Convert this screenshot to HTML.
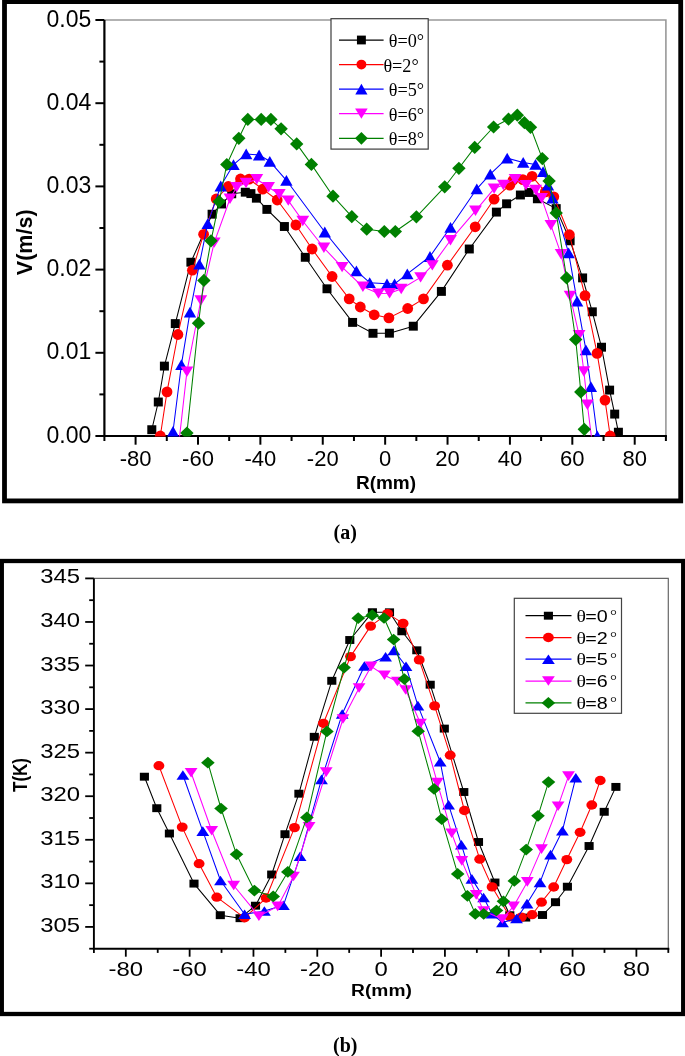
<!DOCTYPE html>
<html><head><meta charset="utf-8"><style>
html,body{margin:0;padding:0;background:#fff;}
svg{display:block;}
text{font-family:"Liberation Sans",sans-serif;fill:#000;}
svg{will-change:transform;}
.ta{font-size:23px;}
.tax{font-size:22px;}
.tt{font-size:21.5px;font-weight:bold;}
.tt2{font-size:19px;font-weight:bold;}
.cap{font-family:"Liberation Serif",serif;font-size:20px;font-weight:bold;}
.lga{font-family:"Liberation Serif",serif;font-size:18.2px;}
.tb{font-size:20.6px;}
.tbt{font-size:17px;font-weight:bold;}
.lgbt{font-family:"Liberation Serif",serif;font-size:17px;}
.lgb{font-size:17px;}
.lgbd{font-family:"Liberation Serif",serif;font-size:15px;}
</style></head>
<body><svg width="685" height="1056" viewBox="0 0 685 1056">
<defs><clipPath id="ca"><rect x="104.4" y="20.0" width="561.5" height="416.4"/></clipPath><clipPath id="cb"><rect x="93.9" y="578.4" width="574.4" height="370.30000000000007"/></clipPath></defs>
<rect width="685" height="1056" fill="#fff"/>
<rect x="4.5" y="1.6" width="676.2" height="499.3" fill="none" stroke="#000" stroke-width="4.8"/>
<rect x="1.8" y="561" width="681.4" height="453" fill="none" stroke="#000" stroke-width="4.3"/>
<path d="M104.4,20.0H665.9V436.0" fill="none" stroke="#999" stroke-width="1.6"/>
<path d="M104.4,20.0V436.0M103.4,436.0H666.9" stroke="#000" stroke-width="2.2" fill="none"/>
<path d="M95.4,436.00H104.4" stroke="#000" stroke-width="2"/>
<path d="M99.4,394.40H104.4" stroke="#000" stroke-width="2"/>
<path d="M95.4,352.80H104.4" stroke="#000" stroke-width="2"/>
<path d="M99.4,311.20H104.4" stroke="#000" stroke-width="2"/>
<path d="M95.4,269.60H104.4" stroke="#000" stroke-width="2"/>
<path d="M99.4,228.00H104.4" stroke="#000" stroke-width="2"/>
<path d="M95.4,186.40H104.4" stroke="#000" stroke-width="2"/>
<path d="M99.4,144.80H104.4" stroke="#000" stroke-width="2"/>
<path d="M95.4,103.20H104.4" stroke="#000" stroke-width="2"/>
<path d="M99.4,61.60H104.4" stroke="#000" stroke-width="2"/>
<path d="M95.4,20.00H104.4" stroke="#000" stroke-width="2"/>
<path d="M104.40,436.0V441.0" stroke="#000" stroke-width="2"/>
<path d="M135.59,436.0V444.7" stroke="#000" stroke-width="2"/>
<path d="M166.79,436.0V441.0" stroke="#000" stroke-width="2"/>
<path d="M197.98,436.0V444.7" stroke="#000" stroke-width="2"/>
<path d="M229.18,436.0V441.0" stroke="#000" stroke-width="2"/>
<path d="M260.37,436.0V444.7" stroke="#000" stroke-width="2"/>
<path d="M291.57,436.0V441.0" stroke="#000" stroke-width="2"/>
<path d="M322.76,436.0V444.7" stroke="#000" stroke-width="2"/>
<path d="M353.96,436.0V441.0" stroke="#000" stroke-width="2"/>
<path d="M385.15,436.0V444.7" stroke="#000" stroke-width="2"/>
<path d="M416.34,436.0V441.0" stroke="#000" stroke-width="2"/>
<path d="M447.54,436.0V444.7" stroke="#000" stroke-width="2"/>
<path d="M478.73,436.0V441.0" stroke="#000" stroke-width="2"/>
<path d="M509.93,436.0V444.7" stroke="#000" stroke-width="2"/>
<path d="M541.12,436.0V441.0" stroke="#000" stroke-width="2"/>
<path d="M572.32,436.0V444.7" stroke="#000" stroke-width="2"/>
<path d="M603.51,436.0V441.0" stroke="#000" stroke-width="2"/>
<path d="M634.71,436.0V444.7" stroke="#000" stroke-width="2"/>
<path d="M665.90,436.0V441.0" stroke="#000" stroke-width="2"/>
<g clip-path="url(#ca)"><polyline points="151.8,429.7 158.3,402.0 164.4,366.1 175.3,323.6 190.9,262.2 212.1,214.2 221.5,204.0 231.7,193.8 245.3,192.2 250.9,193.6 256.4,198.2 266.9,209.4 284.4,226.5 305.3,257.3 327.0,288.8 352.6,322.4 373.0,333.3 389.4,333.2 413.3,326.2 441.4,291.4 469.3,249.0 496.4,212.1 506.6,203.8 520.4,195.0 529.1,192.5 537.4,198.8 556.2,208.6 570.1,240.8 582.6,277.9 592.3,311.8 601.5,347.2 609.6,390.1 614.7,414.1 618.4,432.2" fill="none" stroke="#000000" stroke-width="1.05" stroke-linejoin="round"/>
<rect x="147.30" y="425.25" width="9.00" height="8.90" fill="#000000"/>
<rect x="153.80" y="397.55" width="9.00" height="8.90" fill="#000000"/>
<rect x="159.90" y="361.65" width="9.00" height="8.90" fill="#000000"/>
<rect x="170.80" y="319.15" width="9.00" height="8.90" fill="#000000"/>
<rect x="186.40" y="257.75" width="9.00" height="8.90" fill="#000000"/>
<rect x="207.60" y="209.75" width="9.00" height="8.90" fill="#000000"/>
<rect x="217.00" y="199.55" width="9.00" height="8.90" fill="#000000"/>
<rect x="227.20" y="189.35" width="9.00" height="8.90" fill="#000000"/>
<rect x="240.80" y="187.75" width="9.00" height="8.90" fill="#000000"/>
<rect x="246.40" y="189.15" width="9.00" height="8.90" fill="#000000"/>
<rect x="251.90" y="193.75" width="9.00" height="8.90" fill="#000000"/>
<rect x="262.40" y="204.95" width="9.00" height="8.90" fill="#000000"/>
<rect x="279.90" y="222.05" width="9.00" height="8.90" fill="#000000"/>
<rect x="300.80" y="252.85" width="9.00" height="8.90" fill="#000000"/>
<rect x="322.50" y="284.35" width="9.00" height="8.90" fill="#000000"/>
<rect x="348.10" y="317.95" width="9.00" height="8.90" fill="#000000"/>
<rect x="368.50" y="328.85" width="9.00" height="8.90" fill="#000000"/>
<rect x="384.90" y="328.75" width="9.00" height="8.90" fill="#000000"/>
<rect x="408.80" y="321.75" width="9.00" height="8.90" fill="#000000"/>
<rect x="436.90" y="286.95" width="9.00" height="8.90" fill="#000000"/>
<rect x="464.80" y="244.55" width="9.00" height="8.90" fill="#000000"/>
<rect x="491.90" y="207.65" width="9.00" height="8.90" fill="#000000"/>
<rect x="502.10" y="199.35" width="9.00" height="8.90" fill="#000000"/>
<rect x="515.90" y="190.55" width="9.00" height="8.90" fill="#000000"/>
<rect x="524.60" y="188.05" width="9.00" height="8.90" fill="#000000"/>
<rect x="532.90" y="194.35" width="9.00" height="8.90" fill="#000000"/>
<rect x="551.70" y="204.15" width="9.00" height="8.90" fill="#000000"/>
<rect x="565.60" y="236.35" width="9.00" height="8.90" fill="#000000"/>
<rect x="578.10" y="273.45" width="9.00" height="8.90" fill="#000000"/>
<rect x="587.80" y="307.35" width="9.00" height="8.90" fill="#000000"/>
<rect x="597.00" y="342.75" width="9.00" height="8.90" fill="#000000"/>
<rect x="605.10" y="385.65" width="9.00" height="8.90" fill="#000000"/>
<rect x="610.20" y="409.65" width="9.00" height="8.90" fill="#000000"/>
<rect x="613.90" y="427.75" width="9.00" height="8.90" fill="#000000"/>
<polyline points="160.3,436.0 167.0,391.9 177.9,334.5 192.4,270.2 203.6,234.3 216.2,199.0 228.3,186.5 240.5,179.0 249.1,179.1 262.7,189.2 277.2,200.0 295.9,225.0 312.1,249.0 332.1,276.5 349.2,298.9 360.3,307.0 374.2,314.8 388.9,317.9 407.7,308.5 423.5,298.9 447.4,265.2 475.2,226.8 494.1,199.2 509.8,185.2 513.0,180.3 522.9,179.6 532.1,176.3 545.3,191.9 553.8,196.8 569.4,234.7 585.0,295.6 597.1,353.4 605.0,400.1 610.2,436.0" fill="none" stroke="#ff0000" stroke-width="1.05" stroke-linejoin="round"/>
<ellipse cx="160.30" cy="436.00" rx="5.40" ry="5.40" fill="#ff0000"/>
<ellipse cx="167.00" cy="391.90" rx="5.40" ry="5.40" fill="#ff0000"/>
<ellipse cx="177.90" cy="334.50" rx="5.40" ry="5.40" fill="#ff0000"/>
<ellipse cx="192.40" cy="270.20" rx="5.40" ry="5.40" fill="#ff0000"/>
<ellipse cx="203.60" cy="234.30" rx="5.40" ry="5.40" fill="#ff0000"/>
<ellipse cx="216.20" cy="199.00" rx="5.40" ry="5.40" fill="#ff0000"/>
<ellipse cx="228.30" cy="186.50" rx="5.40" ry="5.40" fill="#ff0000"/>
<ellipse cx="240.50" cy="179.00" rx="5.40" ry="5.40" fill="#ff0000"/>
<ellipse cx="249.10" cy="179.10" rx="5.40" ry="5.40" fill="#ff0000"/>
<ellipse cx="262.70" cy="189.20" rx="5.40" ry="5.40" fill="#ff0000"/>
<ellipse cx="277.20" cy="200.00" rx="5.40" ry="5.40" fill="#ff0000"/>
<ellipse cx="295.90" cy="225.00" rx="5.40" ry="5.40" fill="#ff0000"/>
<ellipse cx="312.10" cy="249.00" rx="5.40" ry="5.40" fill="#ff0000"/>
<ellipse cx="332.10" cy="276.50" rx="5.40" ry="5.40" fill="#ff0000"/>
<ellipse cx="349.20" cy="298.90" rx="5.40" ry="5.40" fill="#ff0000"/>
<ellipse cx="360.30" cy="307.00" rx="5.40" ry="5.40" fill="#ff0000"/>
<ellipse cx="374.20" cy="314.80" rx="5.40" ry="5.40" fill="#ff0000"/>
<ellipse cx="388.90" cy="317.90" rx="5.40" ry="5.40" fill="#ff0000"/>
<ellipse cx="407.70" cy="308.50" rx="5.40" ry="5.40" fill="#ff0000"/>
<ellipse cx="423.50" cy="298.90" rx="5.40" ry="5.40" fill="#ff0000"/>
<ellipse cx="447.40" cy="265.20" rx="5.40" ry="5.40" fill="#ff0000"/>
<ellipse cx="475.20" cy="226.80" rx="5.40" ry="5.40" fill="#ff0000"/>
<ellipse cx="494.10" cy="199.20" rx="5.40" ry="5.40" fill="#ff0000"/>
<ellipse cx="509.80" cy="185.20" rx="5.40" ry="5.40" fill="#ff0000"/>
<ellipse cx="513.00" cy="180.30" rx="5.40" ry="5.40" fill="#ff0000"/>
<ellipse cx="522.90" cy="179.60" rx="5.40" ry="5.40" fill="#ff0000"/>
<ellipse cx="532.10" cy="176.30" rx="5.40" ry="5.40" fill="#ff0000"/>
<ellipse cx="545.30" cy="191.90" rx="5.40" ry="5.40" fill="#ff0000"/>
<ellipse cx="553.80" cy="196.80" rx="5.40" ry="5.40" fill="#ff0000"/>
<ellipse cx="569.40" cy="234.70" rx="5.40" ry="5.40" fill="#ff0000"/>
<ellipse cx="585.00" cy="295.60" rx="5.40" ry="5.40" fill="#ff0000"/>
<ellipse cx="597.10" cy="353.40" rx="5.40" ry="5.40" fill="#ff0000"/>
<ellipse cx="605.00" cy="400.10" rx="5.40" ry="5.40" fill="#ff0000"/>
<ellipse cx="610.20" cy="436.00" rx="5.40" ry="5.40" fill="#ff0000"/>
<polyline points="173.0,431.5 181.4,364.7 190.0,312.1 199.4,264.1 207.7,223.7 220.7,186.0 233.5,164.6 246.2,153.9 259.1,155.0 269.8,161.3 286.4,180.3 324.8,232.0 356.4,270.9 369.7,282.7 387.0,283.8 394.6,283.8 407.3,273.9 430.0,256.5 450.5,227.3 476.8,188.8 490.3,174.2 507.2,158.2 523.2,162.4 535.5,164.4 543.1,171.7 548.0,185.0 552.5,198.0 568.6,252.8 577.1,301.2 585.9,349.9 590.9,386.6 597.3,436.0" fill="none" stroke="#0000ff" stroke-width="1.05" stroke-linejoin="round"/>
<path d="M173.00,426.10L179.20,436.90L166.80,436.90Z" fill="#0000ff"/>
<path d="M181.40,359.30L187.60,370.10L175.20,370.10Z" fill="#0000ff"/>
<path d="M190.00,306.70L196.20,317.50L183.80,317.50Z" fill="#0000ff"/>
<path d="M199.40,258.70L205.60,269.50L193.20,269.50Z" fill="#0000ff"/>
<path d="M207.70,218.30L213.90,229.10L201.50,229.10Z" fill="#0000ff"/>
<path d="M220.70,180.60L226.90,191.40L214.50,191.40Z" fill="#0000ff"/>
<path d="M233.50,159.20L239.70,170.00L227.30,170.00Z" fill="#0000ff"/>
<path d="M246.20,148.50L252.40,159.30L240.00,159.30Z" fill="#0000ff"/>
<path d="M259.10,149.60L265.30,160.40L252.90,160.40Z" fill="#0000ff"/>
<path d="M269.80,155.90L276.00,166.70L263.60,166.70Z" fill="#0000ff"/>
<path d="M286.40,174.90L292.60,185.70L280.20,185.70Z" fill="#0000ff"/>
<path d="M324.80,226.60L331.00,237.40L318.60,237.40Z" fill="#0000ff"/>
<path d="M356.40,265.50L362.60,276.30L350.20,276.30Z" fill="#0000ff"/>
<path d="M369.70,277.30L375.90,288.10L363.50,288.10Z" fill="#0000ff"/>
<path d="M387.00,278.40L393.20,289.20L380.80,289.20Z" fill="#0000ff"/>
<path d="M394.60,278.40L400.80,289.20L388.40,289.20Z" fill="#0000ff"/>
<path d="M407.30,268.50L413.50,279.30L401.10,279.30Z" fill="#0000ff"/>
<path d="M430.00,251.10L436.20,261.90L423.80,261.90Z" fill="#0000ff"/>
<path d="M450.50,221.90L456.70,232.70L444.30,232.70Z" fill="#0000ff"/>
<path d="M476.80,183.40L483.00,194.20L470.60,194.20Z" fill="#0000ff"/>
<path d="M490.30,168.80L496.50,179.60L484.10,179.60Z" fill="#0000ff"/>
<path d="M507.20,152.80L513.40,163.60L501.00,163.60Z" fill="#0000ff"/>
<path d="M523.20,157.00L529.40,167.80L517.00,167.80Z" fill="#0000ff"/>
<path d="M535.50,159.00L541.70,169.80L529.30,169.80Z" fill="#0000ff"/>
<path d="M543.10,166.30L549.30,177.10L536.90,177.10Z" fill="#0000ff"/>
<path d="M548.00,179.60L554.20,190.40L541.80,190.40Z" fill="#0000ff"/>
<path d="M552.50,192.60L558.70,203.40L546.30,203.40Z" fill="#0000ff"/>
<path d="M568.60,247.40L574.80,258.20L562.40,258.20Z" fill="#0000ff"/>
<path d="M577.10,295.80L583.30,306.60L570.90,306.60Z" fill="#0000ff"/>
<path d="M585.90,344.50L592.10,355.30L579.70,355.30Z" fill="#0000ff"/>
<path d="M590.90,381.20L597.10,392.00L584.70,392.00Z" fill="#0000ff"/>
<path d="M597.30,430.60L603.50,441.40L591.10,441.40Z" fill="#0000ff"/>
<polyline points="178.3,448.0 186.9,371.7 200.8,300.5 214.2,242.6 230.0,198.7 236.6,187.3 246.0,183.0 256.8,179.3 268.6,187.3 279.3,194.2 288.3,200.6 302.8,221.0 323.9,247.8 342.1,267.1 362.9,286.8 378.5,293.6 389.6,293.2 401.2,289.0 420.6,277.4 432.3,265.4 450.5,240.2 475.5,210.8 494.1,188.6 503.4,185.0 515.1,179.3 526.0,185.1 535.7,190.0 541.6,198.2 550.9,225.2 561.1,254.2 570.1,296.0 579.1,335.2 583.9,371.5 587.4,404.7 592.8,448.0" fill="none" stroke="#ff00ff" stroke-width="1.05" stroke-linejoin="round"/>
<path d="M171.90,442.80L184.70,442.80L178.30,453.20Z" fill="#ff00ff"/>
<path d="M180.50,366.50L193.30,366.50L186.90,376.90Z" fill="#ff00ff"/>
<path d="M194.40,295.30L207.20,295.30L200.80,305.70Z" fill="#ff00ff"/>
<path d="M207.80,237.40L220.60,237.40L214.20,247.80Z" fill="#ff00ff"/>
<path d="M223.60,193.50L236.40,193.50L230.00,203.90Z" fill="#ff00ff"/>
<path d="M230.20,182.10L243.00,182.10L236.60,192.50Z" fill="#ff00ff"/>
<path d="M239.60,177.80L252.40,177.80L246.00,188.20Z" fill="#ff00ff"/>
<path d="M250.40,174.10L263.20,174.10L256.80,184.50Z" fill="#ff00ff"/>
<path d="M262.20,182.10L275.00,182.10L268.60,192.50Z" fill="#ff00ff"/>
<path d="M272.90,189.00L285.70,189.00L279.30,199.40Z" fill="#ff00ff"/>
<path d="M281.90,195.40L294.70,195.40L288.30,205.80Z" fill="#ff00ff"/>
<path d="M296.40,215.80L309.20,215.80L302.80,226.20Z" fill="#ff00ff"/>
<path d="M317.50,242.60L330.30,242.60L323.90,253.00Z" fill="#ff00ff"/>
<path d="M335.70,261.90L348.50,261.90L342.10,272.30Z" fill="#ff00ff"/>
<path d="M356.50,281.60L369.30,281.60L362.90,292.00Z" fill="#ff00ff"/>
<path d="M372.10,288.40L384.90,288.40L378.50,298.80Z" fill="#ff00ff"/>
<path d="M383.20,288.00L396.00,288.00L389.60,298.40Z" fill="#ff00ff"/>
<path d="M394.80,283.80L407.60,283.80L401.20,294.20Z" fill="#ff00ff"/>
<path d="M414.20,272.20L427.00,272.20L420.60,282.60Z" fill="#ff00ff"/>
<path d="M425.90,260.20L438.70,260.20L432.30,270.60Z" fill="#ff00ff"/>
<path d="M444.10,235.00L456.90,235.00L450.50,245.40Z" fill="#ff00ff"/>
<path d="M469.10,205.60L481.90,205.60L475.50,216.00Z" fill="#ff00ff"/>
<path d="M487.70,183.40L500.50,183.40L494.10,193.80Z" fill="#ff00ff"/>
<path d="M497.00,179.80L509.80,179.80L503.40,190.20Z" fill="#ff00ff"/>
<path d="M508.70,174.10L521.50,174.10L515.10,184.50Z" fill="#ff00ff"/>
<path d="M519.60,179.90L532.40,179.90L526.00,190.30Z" fill="#ff00ff"/>
<path d="M529.30,184.80L542.10,184.80L535.70,195.20Z" fill="#ff00ff"/>
<path d="M535.20,193.00L548.00,193.00L541.60,203.40Z" fill="#ff00ff"/>
<path d="M544.50,220.00L557.30,220.00L550.90,230.40Z" fill="#ff00ff"/>
<path d="M554.70,249.00L567.50,249.00L561.10,259.40Z" fill="#ff00ff"/>
<path d="M563.70,290.80L576.50,290.80L570.10,301.20Z" fill="#ff00ff"/>
<path d="M572.70,330.00L585.50,330.00L579.10,340.40Z" fill="#ff00ff"/>
<path d="M577.50,366.30L590.30,366.30L583.90,376.70Z" fill="#ff00ff"/>
<path d="M581.00,399.50L593.80,399.50L587.40,409.90Z" fill="#ff00ff"/>
<path d="M586.40,442.80L599.20,442.80L592.80,453.20Z" fill="#ff00ff"/>
<polyline points="186.9,433.1 198.5,323.2 203.9,280.4 211.0,240.8 219.2,201.6 226.8,164.5 238.8,138.3 247.8,119.4 261.2,119.4 270.9,119.4 281.1,128.8 296.7,143.9 311.4,164.4 333.0,196.2 351.8,216.7 366.7,229.2 384.3,231.5 395.3,231.5 416.4,216.8 444.7,186.8 458.9,168.3 474.7,147.4 493.6,127.0 508.5,119.2 517.3,115.2 524.4,122.7 530.5,127.3 542.3,158.6 549.1,181.0 556.2,213.0 566.6,277.9 575.7,339.5 580.8,391.9 584.3,429.3" fill="none" stroke="#008000" stroke-width="1.05" stroke-linejoin="round"/>
<path d="M186.90,426.50L193.60,433.10L186.90,439.70L180.20,433.10Z" fill="#008000"/>
<path d="M198.50,316.60L205.20,323.20L198.50,329.80L191.80,323.20Z" fill="#008000"/>
<path d="M203.90,273.80L210.60,280.40L203.90,287.00L197.20,280.40Z" fill="#008000"/>
<path d="M211.00,234.20L217.70,240.80L211.00,247.40L204.30,240.80Z" fill="#008000"/>
<path d="M219.20,195.00L225.90,201.60L219.20,208.20L212.50,201.60Z" fill="#008000"/>
<path d="M226.80,157.90L233.50,164.50L226.80,171.10L220.10,164.50Z" fill="#008000"/>
<path d="M238.80,131.70L245.50,138.30L238.80,144.90L232.10,138.30Z" fill="#008000"/>
<path d="M247.80,112.80L254.50,119.40L247.80,126.00L241.10,119.40Z" fill="#008000"/>
<path d="M261.20,112.80L267.90,119.40L261.20,126.00L254.50,119.40Z" fill="#008000"/>
<path d="M270.90,112.80L277.60,119.40L270.90,126.00L264.20,119.40Z" fill="#008000"/>
<path d="M281.10,122.20L287.80,128.80L281.10,135.40L274.40,128.80Z" fill="#008000"/>
<path d="M296.70,137.30L303.40,143.90L296.70,150.50L290.00,143.90Z" fill="#008000"/>
<path d="M311.40,157.80L318.10,164.40L311.40,171.00L304.70,164.40Z" fill="#008000"/>
<path d="M333.00,189.60L339.70,196.20L333.00,202.80L326.30,196.20Z" fill="#008000"/>
<path d="M351.80,210.10L358.50,216.70L351.80,223.30L345.10,216.70Z" fill="#008000"/>
<path d="M366.70,222.60L373.40,229.20L366.70,235.80L360.00,229.20Z" fill="#008000"/>
<path d="M384.30,224.90L391.00,231.50L384.30,238.10L377.60,231.50Z" fill="#008000"/>
<path d="M395.30,224.90L402.00,231.50L395.30,238.10L388.60,231.50Z" fill="#008000"/>
<path d="M416.40,210.20L423.10,216.80L416.40,223.40L409.70,216.80Z" fill="#008000"/>
<path d="M444.70,180.20L451.40,186.80L444.70,193.40L438.00,186.80Z" fill="#008000"/>
<path d="M458.90,161.70L465.60,168.30L458.90,174.90L452.20,168.30Z" fill="#008000"/>
<path d="M474.70,140.80L481.40,147.40L474.70,154.00L468.00,147.40Z" fill="#008000"/>
<path d="M493.60,120.40L500.30,127.00L493.60,133.60L486.90,127.00Z" fill="#008000"/>
<path d="M508.50,112.60L515.20,119.20L508.50,125.80L501.80,119.20Z" fill="#008000"/>
<path d="M517.30,108.60L524.00,115.20L517.30,121.80L510.60,115.20Z" fill="#008000"/>
<path d="M524.40,116.10L531.10,122.70L524.40,129.30L517.70,122.70Z" fill="#008000"/>
<path d="M530.50,120.70L537.20,127.30L530.50,133.90L523.80,127.30Z" fill="#008000"/>
<path d="M542.30,152.00L549.00,158.60L542.30,165.20L535.60,158.60Z" fill="#008000"/>
<path d="M549.10,174.40L555.80,181.00L549.10,187.60L542.40,181.00Z" fill="#008000"/>
<path d="M556.20,206.40L562.90,213.00L556.20,219.60L549.50,213.00Z" fill="#008000"/>
<path d="M566.60,271.30L573.30,277.90L566.60,284.50L559.90,277.90Z" fill="#008000"/>
<path d="M575.70,332.90L582.40,339.50L575.70,346.10L569.00,339.50Z" fill="#008000"/>
<path d="M580.80,385.30L587.50,391.90L580.80,398.50L574.10,391.90Z" fill="#008000"/>
<path d="M584.30,422.70L591.00,429.30L584.30,435.90L577.60,429.30Z" fill="#008000"/></g>
<text x="91.3" y="442.60" text-anchor="end" class="ta">0.00</text>
<text x="91.3" y="359.40" text-anchor="end" class="ta">0.01</text>
<text x="91.3" y="276.20" text-anchor="end" class="ta">0.02</text>
<text x="91.3" y="193.00" text-anchor="end" class="ta">0.03</text>
<text x="91.3" y="109.80" text-anchor="end" class="ta">0.04</text>
<text x="91.3" y="26.60" text-anchor="end" class="ta">0.05</text>
<text x="135.59" y="466" text-anchor="middle" class="tax">-80</text>
<text x="197.98" y="466" text-anchor="middle" class="tax">-60</text>
<text x="260.37" y="466" text-anchor="middle" class="tax">-40</text>
<text x="322.76" y="466" text-anchor="middle" class="tax">-20</text>
<text x="385.15" y="466" text-anchor="middle" class="tax">0</text>
<text x="447.54" y="466" text-anchor="middle" class="tax">20</text>
<text x="509.93" y="466" text-anchor="middle" class="tax">40</text>
<text x="572.32" y="466" text-anchor="middle" class="tax">60</text>
<text x="634.71" y="466" text-anchor="middle" class="tax">80</text>
<text transform="translate(31.9,242.3) rotate(-90)" text-anchor="middle" class="tt">V(m/s)</text>
<text x="386" y="488.5" text-anchor="middle" class="tt2">R(mm)</text>
<text x="345.2" y="539" text-anchor="middle" class="cap">(a)</text>
<rect x="331" y="18.7" width="97.2" height="130.4" fill="#fff" stroke="#3c3c3c" stroke-width="1.2"/>
<path d="M339,40.0H383.6" stroke="#000000" stroke-width="1.25"/>
<rect x="356.95" y="35.60" width="8.90" height="8.80" fill="#000000"/>
<text x="388.8" y="47.0" class="lga">θ=0°</text>
<path d="M339,64.6H383.6" stroke="#ff0000" stroke-width="1.25"/>
<ellipse cx="361.40" cy="64.60" rx="4.95" ry="4.95" fill="#ff0000"/>
<text x="383.4" y="71.6" class="lga">θ=2°</text>
<path d="M339,89.1H383.6" stroke="#0000ff" stroke-width="1.25"/>
<path d="M361.40,83.80L367.50,94.40L355.30,94.40Z" fill="#0000ff"/>
<text x="388.8" y="96.1" class="lga">θ=5°</text>
<path d="M339,113.6H383.6" stroke="#ff00ff" stroke-width="1.25"/>
<path d="M355.10,108.50L367.70,108.50L361.40,118.70Z" fill="#ff00ff"/>
<text x="388.8" y="120.6" class="lga">θ=6°</text>
<path d="M339,138.3H383.6" stroke="#008000" stroke-width="1.25"/>
<path d="M361.40,131.90L367.80,138.30L361.40,144.70L355.00,138.30Z" fill="#008000"/>
<text x="388.8" y="145.3" class="lga">θ=8°</text>
<g clip-path="url(#cb)"><polyline points="144.4,776.7 156.8,808.2 169.4,833.5 194.0,883.6 220.3,915.2 240.1,918.2 255.5,905.7 271.7,874.5 285.0,834.2 298.9,793.7 314.3,736.8 331.8,680.8 349.8,640.0 372.4,612.2 389.5,612.3 401.9,631.3 416.8,650.3 430.2,684.7 444.3,728.6 463.8,792.0 478.5,842.0 494.9,882.5 509.8,915.2 525.7,917.6 542.5,915.0 555.5,902.2 567.4,886.7 589.1,846.0 604.2,811.8 615.9,786.9" fill="none" stroke="#000000" stroke-width="1.05" stroke-linejoin="round"/>
<rect x="139.85" y="772.75" width="9.10" height="7.90" fill="#000000"/>
<rect x="152.25" y="804.25" width="9.10" height="7.90" fill="#000000"/>
<rect x="164.85" y="829.55" width="9.10" height="7.90" fill="#000000"/>
<rect x="189.45" y="879.65" width="9.10" height="7.90" fill="#000000"/>
<rect x="215.75" y="911.25" width="9.10" height="7.90" fill="#000000"/>
<rect x="235.55" y="914.25" width="9.10" height="7.90" fill="#000000"/>
<rect x="250.95" y="901.75" width="9.10" height="7.90" fill="#000000"/>
<rect x="267.15" y="870.55" width="9.10" height="7.90" fill="#000000"/>
<rect x="280.45" y="830.25" width="9.10" height="7.90" fill="#000000"/>
<rect x="294.35" y="789.75" width="9.10" height="7.90" fill="#000000"/>
<rect x="309.75" y="732.85" width="9.10" height="7.90" fill="#000000"/>
<rect x="327.25" y="676.85" width="9.10" height="7.90" fill="#000000"/>
<rect x="345.25" y="636.05" width="9.10" height="7.90" fill="#000000"/>
<rect x="367.85" y="608.25" width="9.10" height="7.90" fill="#000000"/>
<rect x="384.95" y="608.35" width="9.10" height="7.90" fill="#000000"/>
<rect x="397.35" y="627.35" width="9.10" height="7.90" fill="#000000"/>
<rect x="412.25" y="646.35" width="9.10" height="7.90" fill="#000000"/>
<rect x="425.65" y="680.75" width="9.10" height="7.90" fill="#000000"/>
<rect x="439.75" y="724.65" width="9.10" height="7.90" fill="#000000"/>
<rect x="459.25" y="788.05" width="9.10" height="7.90" fill="#000000"/>
<rect x="473.95" y="838.05" width="9.10" height="7.90" fill="#000000"/>
<rect x="490.35" y="878.55" width="9.10" height="7.90" fill="#000000"/>
<rect x="505.25" y="911.25" width="9.10" height="7.90" fill="#000000"/>
<rect x="521.15" y="913.65" width="9.10" height="7.90" fill="#000000"/>
<rect x="537.95" y="911.05" width="9.10" height="7.90" fill="#000000"/>
<rect x="550.95" y="898.25" width="9.10" height="7.90" fill="#000000"/>
<rect x="562.85" y="882.75" width="9.10" height="7.90" fill="#000000"/>
<rect x="584.55" y="842.05" width="9.10" height="7.90" fill="#000000"/>
<rect x="599.65" y="807.85" width="9.10" height="7.90" fill="#000000"/>
<rect x="611.35" y="782.95" width="9.10" height="7.90" fill="#000000"/>
<polyline points="158.9,765.7 182.2,827.1 199.1,863.7 216.8,897.2 244.6,917.8 266.1,898.0 294.5,827.6 323.4,723.3 350.5,656.6 370.6,626.1 387.6,613.6 403.1,623.4 419.2,659.9 434.6,705.9 450.2,755.2 464.4,810.5 479.7,859.2 492.1,886.9 509.8,916.8 521.4,917.1 532.1,914.7 541.5,902.2 553.7,887.0 566.8,859.6 580.1,832.3 591.8,805.0 600.2,780.5" fill="none" stroke="#ff0000" stroke-width="1.05" stroke-linejoin="round"/>
<ellipse cx="158.90" cy="765.70" rx="5.45" ry="4.65" fill="#ff0000"/>
<ellipse cx="182.20" cy="827.10" rx="5.45" ry="4.65" fill="#ff0000"/>
<ellipse cx="199.10" cy="863.70" rx="5.45" ry="4.65" fill="#ff0000"/>
<ellipse cx="216.80" cy="897.20" rx="5.45" ry="4.65" fill="#ff0000"/>
<ellipse cx="244.60" cy="917.80" rx="5.45" ry="4.65" fill="#ff0000"/>
<ellipse cx="266.10" cy="898.00" rx="5.45" ry="4.65" fill="#ff0000"/>
<ellipse cx="294.50" cy="827.60" rx="5.45" ry="4.65" fill="#ff0000"/>
<ellipse cx="323.40" cy="723.30" rx="5.45" ry="4.65" fill="#ff0000"/>
<ellipse cx="350.50" cy="656.60" rx="5.45" ry="4.65" fill="#ff0000"/>
<ellipse cx="370.60" cy="626.10" rx="5.45" ry="4.65" fill="#ff0000"/>
<ellipse cx="387.60" cy="613.60" rx="5.45" ry="4.65" fill="#ff0000"/>
<ellipse cx="403.10" cy="623.40" rx="5.45" ry="4.65" fill="#ff0000"/>
<ellipse cx="419.20" cy="659.90" rx="5.45" ry="4.65" fill="#ff0000"/>
<ellipse cx="434.60" cy="705.90" rx="5.45" ry="4.65" fill="#ff0000"/>
<ellipse cx="450.20" cy="755.20" rx="5.45" ry="4.65" fill="#ff0000"/>
<ellipse cx="464.40" cy="810.50" rx="5.45" ry="4.65" fill="#ff0000"/>
<ellipse cx="479.70" cy="859.20" rx="5.45" ry="4.65" fill="#ff0000"/>
<ellipse cx="492.10" cy="886.90" rx="5.45" ry="4.65" fill="#ff0000"/>
<ellipse cx="509.80" cy="916.80" rx="5.45" ry="4.65" fill="#ff0000"/>
<ellipse cx="521.40" cy="917.10" rx="5.45" ry="4.65" fill="#ff0000"/>
<ellipse cx="532.10" cy="914.70" rx="5.45" ry="4.65" fill="#ff0000"/>
<ellipse cx="541.50" cy="902.20" rx="5.45" ry="4.65" fill="#ff0000"/>
<ellipse cx="553.70" cy="887.00" rx="5.45" ry="4.65" fill="#ff0000"/>
<ellipse cx="566.80" cy="859.60" rx="5.45" ry="4.65" fill="#ff0000"/>
<ellipse cx="580.10" cy="832.30" rx="5.45" ry="4.65" fill="#ff0000"/>
<ellipse cx="591.80" cy="805.00" rx="5.45" ry="4.65" fill="#ff0000"/>
<ellipse cx="600.20" cy="780.50" rx="5.45" ry="4.65" fill="#ff0000"/>
<polyline points="182.9,775.0 202.8,831.1 220.5,880.5 244.6,914.3 264.4,911.0 283.4,905.3 300.1,856.3 321.5,779.4 342.2,714.0 364.4,666.0 385.6,656.8 393.9,650.4 406.0,666.2 417.9,705.6 440.2,761.7 448.6,804.8 461.4,844.7 471.9,878.9 483.6,897.5 491.9,913.8 502.5,922.5 516.5,918.5 527.0,903.6 540.0,882.4 550.6,854.6 562.4,830.7 575.8,777.7" fill="none" stroke="#0000ff" stroke-width="1.05" stroke-linejoin="round"/>
<path d="M182.90,770.20L189.30,779.80L176.50,779.80Z" fill="#0000ff"/>
<path d="M202.80,826.30L209.20,835.90L196.40,835.90Z" fill="#0000ff"/>
<path d="M220.50,875.70L226.90,885.30L214.10,885.30Z" fill="#0000ff"/>
<path d="M244.60,909.50L251.00,919.10L238.20,919.10Z" fill="#0000ff"/>
<path d="M264.40,906.20L270.80,915.80L258.00,915.80Z" fill="#0000ff"/>
<path d="M283.40,900.50L289.80,910.10L277.00,910.10Z" fill="#0000ff"/>
<path d="M300.10,851.50L306.50,861.10L293.70,861.10Z" fill="#0000ff"/>
<path d="M321.50,774.60L327.90,784.20L315.10,784.20Z" fill="#0000ff"/>
<path d="M342.20,709.20L348.60,718.80L335.80,718.80Z" fill="#0000ff"/>
<path d="M364.40,661.20L370.80,670.80L358.00,670.80Z" fill="#0000ff"/>
<path d="M385.60,652.00L392.00,661.60L379.20,661.60Z" fill="#0000ff"/>
<path d="M393.90,645.60L400.30,655.20L387.50,655.20Z" fill="#0000ff"/>
<path d="M406.00,661.40L412.40,671.00L399.60,671.00Z" fill="#0000ff"/>
<path d="M417.90,700.80L424.30,710.40L411.50,710.40Z" fill="#0000ff"/>
<path d="M440.20,756.90L446.60,766.50L433.80,766.50Z" fill="#0000ff"/>
<path d="M448.60,800.00L455.00,809.60L442.20,809.60Z" fill="#0000ff"/>
<path d="M461.40,839.90L467.80,849.50L455.00,849.50Z" fill="#0000ff"/>
<path d="M471.90,874.10L478.30,883.70L465.50,883.70Z" fill="#0000ff"/>
<path d="M483.60,892.70L490.00,902.30L477.20,902.30Z" fill="#0000ff"/>
<path d="M491.90,909.00L498.30,918.60L485.50,918.60Z" fill="#0000ff"/>
<path d="M502.50,917.70L508.90,927.30L496.10,927.30Z" fill="#0000ff"/>
<path d="M516.50,913.70L522.90,923.30L510.10,923.30Z" fill="#0000ff"/>
<path d="M527.00,898.80L533.40,908.40L520.60,908.40Z" fill="#0000ff"/>
<path d="M540.00,877.60L546.40,887.20L533.60,887.20Z" fill="#0000ff"/>
<path d="M550.60,849.80L557.00,859.40L544.20,859.40Z" fill="#0000ff"/>
<path d="M562.40,825.90L568.80,835.50L556.00,835.50Z" fill="#0000ff"/>
<path d="M575.80,772.90L582.20,782.50L569.40,782.50Z" fill="#0000ff"/>
<polyline points="191.1,772.7 211.7,830.7 233.7,885.5 258.9,916.2 277.7,906.4 293.5,876.5 309.1,826.9 326.2,772.1 343.0,719.0 359.1,688.0 371.1,666.4 384.5,675.3 397.4,681.5 405.7,690.0 420.5,723.5 437.3,782.6 451.7,833.3 461.8,860.9 476.2,894.9 483.7,911.0 502.3,919.0 513.5,906.4 527.3,881.9 541.5,849.1 558.1,806.2 568.5,776.1" fill="none" stroke="#ff00ff" stroke-width="1.05" stroke-linejoin="round"/>
<path d="M184.70,767.90L197.50,767.90L191.10,777.50Z" fill="#ff00ff"/>
<path d="M205.30,825.90L218.10,825.90L211.70,835.50Z" fill="#ff00ff"/>
<path d="M227.30,880.70L240.10,880.70L233.70,890.30Z" fill="#ff00ff"/>
<path d="M252.50,911.40L265.30,911.40L258.90,921.00Z" fill="#ff00ff"/>
<path d="M271.30,901.60L284.10,901.60L277.70,911.20Z" fill="#ff00ff"/>
<path d="M287.10,871.70L299.90,871.70L293.50,881.30Z" fill="#ff00ff"/>
<path d="M302.70,822.10L315.50,822.10L309.10,831.70Z" fill="#ff00ff"/>
<path d="M319.80,767.30L332.60,767.30L326.20,776.90Z" fill="#ff00ff"/>
<path d="M336.60,714.20L349.40,714.20L343.00,723.80Z" fill="#ff00ff"/>
<path d="M352.70,683.20L365.50,683.20L359.10,692.80Z" fill="#ff00ff"/>
<path d="M364.70,661.60L377.50,661.60L371.10,671.20Z" fill="#ff00ff"/>
<path d="M378.10,670.50L390.90,670.50L384.50,680.10Z" fill="#ff00ff"/>
<path d="M391.00,676.70L403.80,676.70L397.40,686.30Z" fill="#ff00ff"/>
<path d="M399.30,685.20L412.10,685.20L405.70,694.80Z" fill="#ff00ff"/>
<path d="M414.10,718.70L426.90,718.70L420.50,728.30Z" fill="#ff00ff"/>
<path d="M430.90,777.80L443.70,777.80L437.30,787.40Z" fill="#ff00ff"/>
<path d="M445.30,828.50L458.10,828.50L451.70,838.10Z" fill="#ff00ff"/>
<path d="M455.40,856.10L468.20,856.10L461.80,865.70Z" fill="#ff00ff"/>
<path d="M469.80,890.10L482.60,890.10L476.20,899.70Z" fill="#ff00ff"/>
<path d="M477.30,906.20L490.10,906.20L483.70,915.80Z" fill="#ff00ff"/>
<path d="M495.90,914.20L508.70,914.20L502.30,923.80Z" fill="#ff00ff"/>
<path d="M507.10,901.60L519.90,901.60L513.50,911.20Z" fill="#ff00ff"/>
<path d="M520.90,877.10L533.70,877.10L527.30,886.70Z" fill="#ff00ff"/>
<path d="M535.10,844.30L547.90,844.30L541.50,853.90Z" fill="#ff00ff"/>
<path d="M551.70,801.40L564.50,801.40L558.10,811.00Z" fill="#ff00ff"/>
<path d="M562.10,771.30L574.90,771.30L568.50,780.90Z" fill="#ff00ff"/>
<polyline points="207.9,762.7 221.0,808.5 236.5,854.3 254.4,890.6 273.2,896.4 287.8,871.9 306.9,817.4 326.9,731.4 344.1,667.6 358.2,618.2 372.2,615.2 384.0,618.0 393.6,639.5 404.4,679.1 418.2,731.2 434.1,788.9 441.7,819.2 457.7,873.9 467.4,895.8 475.3,913.9 483.7,913.9 496.5,910.5 503.4,901.3 514.3,880.9 526.2,849.6 538.0,815.8 548.5,782.1" fill="none" stroke="#008000" stroke-width="1.05" stroke-linejoin="round"/>
<path d="M207.90,756.85L214.70,762.70L207.90,768.55L201.10,762.70Z" fill="#008000"/>
<path d="M221.00,802.65L227.80,808.50L221.00,814.35L214.20,808.50Z" fill="#008000"/>
<path d="M236.50,848.45L243.30,854.30L236.50,860.15L229.70,854.30Z" fill="#008000"/>
<path d="M254.40,884.75L261.20,890.60L254.40,896.45L247.60,890.60Z" fill="#008000"/>
<path d="M273.20,890.55L280.00,896.40L273.20,902.25L266.40,896.40Z" fill="#008000"/>
<path d="M287.80,866.05L294.60,871.90L287.80,877.75L281.00,871.90Z" fill="#008000"/>
<path d="M306.90,811.55L313.70,817.40L306.90,823.25L300.10,817.40Z" fill="#008000"/>
<path d="M326.90,725.55L333.70,731.40L326.90,737.25L320.10,731.40Z" fill="#008000"/>
<path d="M344.10,661.75L350.90,667.60L344.10,673.45L337.30,667.60Z" fill="#008000"/>
<path d="M358.20,612.35L365.00,618.20L358.20,624.05L351.40,618.20Z" fill="#008000"/>
<path d="M372.20,609.35L379.00,615.20L372.20,621.05L365.40,615.20Z" fill="#008000"/>
<path d="M384.00,612.15L390.80,618.00L384.00,623.85L377.20,618.00Z" fill="#008000"/>
<path d="M393.60,633.65L400.40,639.50L393.60,645.35L386.80,639.50Z" fill="#008000"/>
<path d="M404.40,673.25L411.20,679.10L404.40,684.95L397.60,679.10Z" fill="#008000"/>
<path d="M418.20,725.35L425.00,731.20L418.20,737.05L411.40,731.20Z" fill="#008000"/>
<path d="M434.10,783.05L440.90,788.90L434.10,794.75L427.30,788.90Z" fill="#008000"/>
<path d="M441.70,813.35L448.50,819.20L441.70,825.05L434.90,819.20Z" fill="#008000"/>
<path d="M457.70,868.05L464.50,873.90L457.70,879.75L450.90,873.90Z" fill="#008000"/>
<path d="M467.40,889.95L474.20,895.80L467.40,901.65L460.60,895.80Z" fill="#008000"/>
<path d="M475.30,908.05L482.10,913.90L475.30,919.75L468.50,913.90Z" fill="#008000"/>
<path d="M483.70,908.05L490.50,913.90L483.70,919.75L476.90,913.90Z" fill="#008000"/>
<path d="M496.50,904.65L503.30,910.50L496.50,916.35L489.70,910.50Z" fill="#008000"/>
<path d="M503.40,895.45L510.20,901.30L503.40,907.15L496.60,901.30Z" fill="#008000"/>
<path d="M514.30,875.05L521.10,880.90L514.30,886.75L507.50,880.90Z" fill="#008000"/>
<path d="M526.20,843.75L533.00,849.60L526.20,855.45L519.40,849.60Z" fill="#008000"/>
<path d="M538.00,809.95L544.80,815.80L538.00,821.65L531.20,815.80Z" fill="#008000"/>
<path d="M548.50,776.25L555.30,782.10L548.50,787.95L541.70,782.10Z" fill="#008000"/></g>
<path d="M93.9,578.4H668.3V948.7" fill="none" stroke="#666" stroke-width="1.2"/>
<path d="M93.9,578.4V948.7M92.9,948.7H669.3" stroke="#000" stroke-width="1.9" fill="none"/>
<path d="M89.2,948.70H93.9" stroke="#000" stroke-width="1.8"/>
<path d="M85.2,926.92H93.9" stroke="#000" stroke-width="1.8"/>
<path d="M89.2,905.14H93.9" stroke="#000" stroke-width="1.8"/>
<path d="M85.2,883.35H93.9" stroke="#000" stroke-width="1.8"/>
<path d="M89.2,861.57H93.9" stroke="#000" stroke-width="1.8"/>
<path d="M85.2,839.79H93.9" stroke="#000" stroke-width="1.8"/>
<path d="M89.2,818.01H93.9" stroke="#000" stroke-width="1.8"/>
<path d="M85.2,796.22H93.9" stroke="#000" stroke-width="1.8"/>
<path d="M89.2,774.44H93.9" stroke="#000" stroke-width="1.8"/>
<path d="M85.2,752.66H93.9" stroke="#000" stroke-width="1.8"/>
<path d="M89.2,730.88H93.9" stroke="#000" stroke-width="1.8"/>
<path d="M85.2,709.09H93.9" stroke="#000" stroke-width="1.8"/>
<path d="M89.2,687.31H93.9" stroke="#000" stroke-width="1.8"/>
<path d="M85.2,665.53H93.9" stroke="#000" stroke-width="1.8"/>
<path d="M89.2,643.75H93.9" stroke="#000" stroke-width="1.8"/>
<path d="M85.2,621.96H93.9" stroke="#000" stroke-width="1.8"/>
<path d="M89.2,600.18H93.9" stroke="#000" stroke-width="1.8"/>
<path d="M85.2,578.40H93.9" stroke="#000" stroke-width="1.8"/>
<path d="M93.90,948.7V952.9000000000001" stroke="#000" stroke-width="1.8"/>
<path d="M125.81,948.7V956.7" stroke="#000" stroke-width="1.8"/>
<path d="M157.72,948.7V952.9000000000001" stroke="#000" stroke-width="1.8"/>
<path d="M189.63,948.7V956.7" stroke="#000" stroke-width="1.8"/>
<path d="M221.54,948.7V952.9000000000001" stroke="#000" stroke-width="1.8"/>
<path d="M253.46,948.7V956.7" stroke="#000" stroke-width="1.8"/>
<path d="M285.37,948.7V952.9000000000001" stroke="#000" stroke-width="1.8"/>
<path d="M317.28,948.7V956.7" stroke="#000" stroke-width="1.8"/>
<path d="M349.19,948.7V952.9000000000001" stroke="#000" stroke-width="1.8"/>
<path d="M381.10,948.7V956.7" stroke="#000" stroke-width="1.8"/>
<path d="M413.01,948.7V952.9000000000001" stroke="#000" stroke-width="1.8"/>
<path d="M444.92,948.7V956.7" stroke="#000" stroke-width="1.8"/>
<path d="M476.83,948.7V952.9000000000001" stroke="#000" stroke-width="1.8"/>
<path d="M508.74,948.7V956.7" stroke="#000" stroke-width="1.8"/>
<path d="M540.66,948.7V952.9000000000001" stroke="#000" stroke-width="1.8"/>
<path d="M572.57,948.7V956.7" stroke="#000" stroke-width="1.8"/>
<path d="M604.48,948.7V952.9000000000001" stroke="#000" stroke-width="1.8"/>
<path d="M636.39,948.7V956.7" stroke="#000" stroke-width="1.8"/>
<path d="M668.30,948.7V952.9000000000001" stroke="#000" stroke-width="1.8"/>
<text transform="translate(80,931.92) scale(1.16,1)" text-anchor="end" class="tb">305</text>
<text transform="translate(80,888.35) scale(1.16,1)" text-anchor="end" class="tb">310</text>
<text transform="translate(80,844.79) scale(1.16,1)" text-anchor="end" class="tb">315</text>
<text transform="translate(80,801.22) scale(1.16,1)" text-anchor="end" class="tb">320</text>
<text transform="translate(80,757.66) scale(1.16,1)" text-anchor="end" class="tb">325</text>
<text transform="translate(80,714.09) scale(1.16,1)" text-anchor="end" class="tb">330</text>
<text transform="translate(80,670.53) scale(1.16,1)" text-anchor="end" class="tb">335</text>
<text transform="translate(80,626.96) scale(1.16,1)" text-anchor="end" class="tb">340</text>
<text transform="translate(80,583.40) scale(1.16,1)" text-anchor="end" class="tb">345</text>
<text transform="translate(125.81,975.9) scale(1.16,1)" text-anchor="middle" class="tb">-80</text>
<text transform="translate(189.63,975.9) scale(1.16,1)" text-anchor="middle" class="tb">-60</text>
<text transform="translate(253.46,975.9) scale(1.16,1)" text-anchor="middle" class="tb">-40</text>
<text transform="translate(317.28,975.9) scale(1.16,1)" text-anchor="middle" class="tb">-20</text>
<text transform="translate(381.10,975.9) scale(1.16,1)" text-anchor="middle" class="tb">0</text>
<text transform="translate(444.92,975.9) scale(1.16,1)" text-anchor="middle" class="tb">20</text>
<text transform="translate(508.74,975.9) scale(1.16,1)" text-anchor="middle" class="tb">40</text>
<text transform="translate(572.57,975.9) scale(1.16,1)" text-anchor="middle" class="tb">60</text>
<text transform="translate(636.39,975.9) scale(1.16,1)" text-anchor="middle" class="tb">80</text>
<text transform="translate(26.8,775) rotate(-90) scale(1,1.16)" text-anchor="middle" class="tbt">T(K)</text>
<text transform="translate(381.5,995.8) scale(1.13,1)" text-anchor="middle" class="tbt">R(mm)</text>
<text x="345.3" y="1052" text-anchor="middle" class="cap">(b)</text>
<rect x="514.3" y="598.3" width="107.2" height="115" fill="#fff" stroke="#444" stroke-width="1.2"/>
<path d="M525.5,615.7H571.5" stroke="#000000" stroke-width="1.25"/>
<rect x="543.85" y="611.75" width="9.10" height="7.90" fill="#000000"/>
<g transform="translate(576.5,621.8000000000001) scale(1.16,1)"><text class="lgbt" x="0" y="0">θ</text><text class="lgb" x="7.6" y="0">=0</text><text class="lgbd" x="28.9" y="-2">°</text></g>
<path d="M525.5,637.5H571.5" stroke="#ff0000" stroke-width="1.25"/>
<ellipse cx="548.40" cy="637.50" rx="5.45" ry="4.65" fill="#ff0000"/>
<g transform="translate(576.5,643.6) scale(1.16,1)"><text class="lgbt" x="0" y="0">θ</text><text class="lgb" x="7.6" y="0">=2</text><text class="lgbd" x="28.9" y="-2">°</text></g>
<path d="M525.5,659.2H571.5" stroke="#0000ff" stroke-width="1.25"/>
<path d="M548.40,654.40L554.80,664.00L542.00,664.00Z" fill="#0000ff"/>
<g transform="translate(576.5,665.3000000000001) scale(1.16,1)"><text class="lgbt" x="0" y="0">θ</text><text class="lgb" x="7.6" y="0">=5</text><text class="lgbd" x="28.9" y="-2">°</text></g>
<path d="M525.5,681.0H571.5" stroke="#ff00ff" stroke-width="1.25"/>
<path d="M542.00,676.20L554.80,676.20L548.40,685.80Z" fill="#ff00ff"/>
<g transform="translate(576.5,687.1) scale(1.16,1)"><text class="lgbt" x="0" y="0">θ</text><text class="lgb" x="7.6" y="0">=6</text><text class="lgbd" x="28.9" y="-2">°</text></g>
<path d="M525.5,702.9H571.5" stroke="#008000" stroke-width="1.25"/>
<path d="M548.40,697.05L555.20,702.90L548.40,708.75L541.60,702.90Z" fill="#008000"/>
<g transform="translate(576.5,709.0) scale(1.16,1)"><text class="lgbt" x="0" y="0">θ</text><text class="lgb" x="7.6" y="0">=8</text><text class="lgbd" x="28.9" y="-2">°</text></g>
</svg></body></html>
